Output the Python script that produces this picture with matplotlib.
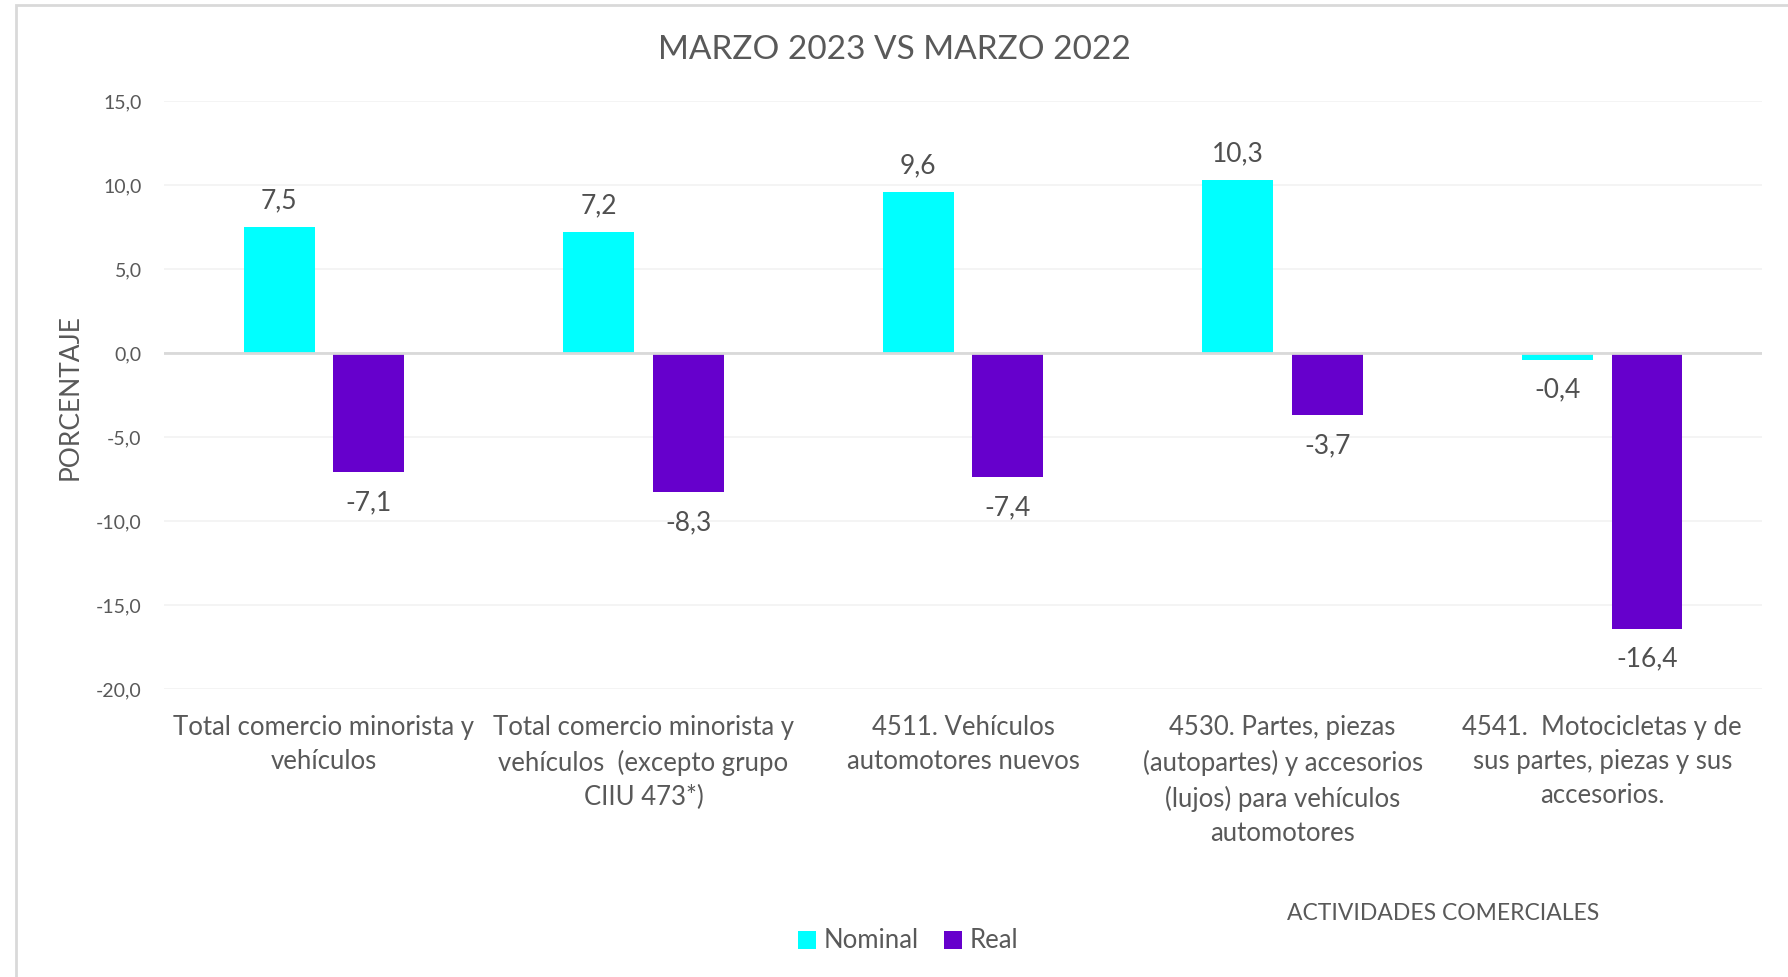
import numpy as np
import matplotlib
matplotlib.use("Agg")
import matplotlib.pyplot as plt
from matplotlib.patches import Rectangle

# Chart data
categories = [
    "Total comercio minorista y\nvehículos",
    "Total comercio minorista y\nvehículos  (excepto grupo\nCIIU 473*)",
    "4511. Vehículos\nautomotores nuevos",
    "4530. Partes, piezas\n(autopartes) y accesorios\n(lujos) para vehículos\nautomotores",
    "4541.  Motocicletas y de\nsus partes, piezas y sus\naccesorios.",
]
nominal = [7.5, 7.2, 9.6, 10.3, -0.4]
real = [-7.1, -8.3, -7.4, -3.7, -16.4]
yticks = [15, 10, 5, 0, -5, -10, -15, -20]

plt.rcParams['font.family'] = ['Lato', 'DejaVu Sans']
text_color = "#595959"
cyan = "#00FFFF"
purple = "#6600CC"

fig = plt.figure(figsize=(17.88, 9.77), dpi=100)
ax = fig.add_axes([0.0917, 0.2948, 0.8938, 0.6018])

x = np.arange(len(categories))
w = 0.222
off = 0.14
b1 = ax.bar(x - off, nominal, w, color=cyan, label="Nominal", zorder=3)
b2 = ax.bar(x + off, real, w, color=purple, label="Real", zorder=3)

# value labels
for bars in (b1, b2):
    for rect in bars:
        v = rect.get_height()
        y = v + (1.55 if v >= 0 else -1.8)
        ax.text(rect.get_x() + rect.get_width() / 2, y,
                f"{v:.1f}".replace(".", ","), ha="center", va="center",
                fontsize=19, color="#505050")

ax.set_xlim(-0.5, len(categories) - 0.5)
ax.set_ylim(-20, 15)
ax.set_yticks(yticks)
ax.set_yticklabels([f"{t:.1f}".replace(".", ",") for t in yticks],
                   fontsize=14, color=text_color)
ax.set_xticks(x)
ax.set_xticklabels(categories, fontsize=18.5, color=text_color,
                   linespacing=1.45)
ax.tick_params(axis="y", length=0, pad=16)
ax.tick_params(axis="x", length=0, pad=19)

ax.grid(axis="y", color="#F2F2F2", linewidth=1.2, zorder=0)
ax.axhline(0, color="#D9D9D9", linewidth=2, zorder=4)
for s in ax.spines.values():
    s.set_visible(False)

fig.text(0.5, 1 - 50 / 977, "MARZO 2023 VS MARZO 2022", ha="center",
         va="center", fontsize=24, color=text_color)
fig.text(70 / 1788, 1 - 397 / 977, "PORCENTAJE", rotation=90, ha="center",
         va="center", fontsize=19, color=text_color)
fig.text(1443 / 1788, 1 - 913 / 977, "ACTIVIDADES COMERCIALES", ha="center",
         va="center", fontsize=16.5, color=text_color)

leg = fig.legend(loc="center", bbox_to_anchor=(0.508, 1 - 941 / 977), ncol=2,
                 frameon=False, fontsize=18.5, handlelength=0.7,
                 handleheight=0.7, handletextpad=0.3, columnspacing=1.0)
for t in leg.get_texts():
    t.set_color(text_color)

# outer chart border
fig.patches.append(Rectangle((16 / 1788, -0.1), 1.2, 1 - 5 / 977 + 0.1,
                             transform=fig.transFigure, fill=False,
                             edgecolor="#D9D9D9", linewidth=2))

fig.savefig("out.png", dpi=100)
